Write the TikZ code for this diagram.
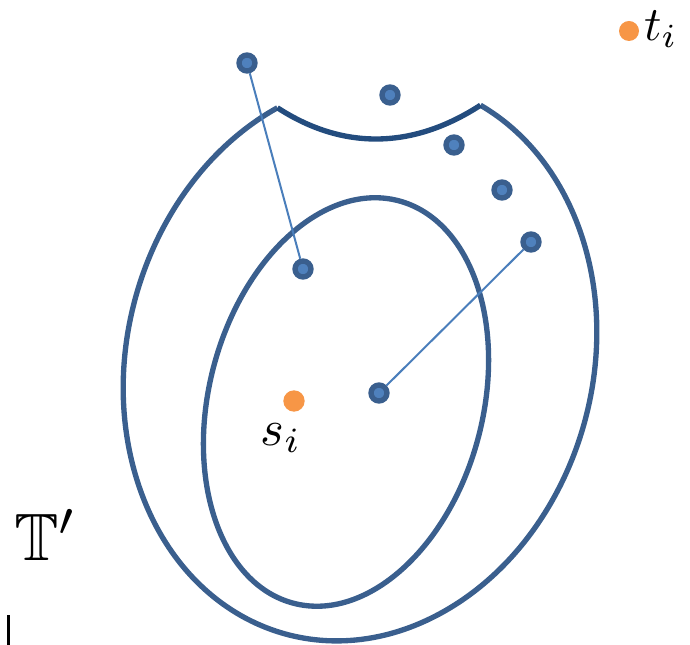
\documentclass[tikz,border=0pt]{standalone}
\usepackage{amsmath,amssymb}
\usepackage{tikz}
\definecolor{ringblue}{HTML}{3A5F8E}
\definecolor{cutblue}{HTML}{234C7E}
\definecolor{dotblue}{HTML}{4F81BD}
\definecolor{linkblue}{HTML}{4A7EBB}
\definecolor{termorange}{HTML}{F79646}

\begin{document}
\begin{tikzpicture}[x=0.75pt,y=0.75pt,
 ring/.style={draw=ringblue,line width=4pt},
 cut/.style={draw=cutblue,line width=4pt},
 link/.style={draw=linkblue,line width=1.5pt},
 vtx/.style={circle,draw=ringblue,fill=dotblue,line width=4pt,inner sep=0pt,minimum size=12pt},
 term/.style={circle,fill=termorange,inner sep=0pt,minimum size=16pt},
 lbl/.style={inner sep=0pt,scale=3.8}]
\useasboundingbox (0,0) rectangle (690,645);
% outer region with the cut at the top
\begin{scope}[shift={(360,285)},rotate=-15]
 \draw[ring] (128.5:233 and 284) arc[start angle=128.5,end angle=437.5,x radius=233,y radius=284];
 \coordinate (cl) at (128.5:233 and 284);
 \coordinate (cr) at (77.5:233 and 284);
\end{scope}
\draw[cut] (cl) to[out=-33,in=-147] (cr);
% inner region
\draw[ring,rotate around={-14.6:(346,243)}] (346,243) ellipse [x radius=137,y radius=208];
% vertices
\node[vtx] (v1) at (247,582) {};
\node[vtx] (v2) at (390,550) {};
\node[vtx] (v3) at (454,500) {};
\node[vtx] (v4) at (502,455) {};
\node[vtx] (v5) at (531,403) {};
\node[vtx] (v6) at (303,376) {};
\node[vtx] (v7) at (379,252) {};
\draw[link] (v1)--(v6); \draw[link] (v5)--(v7);
% terminals
\node[term] (s) at (294,244) {};
\node[term,minimum size=15pt] (t) at (629,614) {};
\node[lbl] (sl) at (281,207) {$s_i$};
\node[lbl,scale=0.95] (tl) at (661,616) {$t_i$};
\node[lbl,scale=1.32] (T) at (46,110) {$\mathbb{T}'$};
\draw[line width=2.25pt] (8,0)--(8,30);
\end{tikzpicture}
\end{document}
